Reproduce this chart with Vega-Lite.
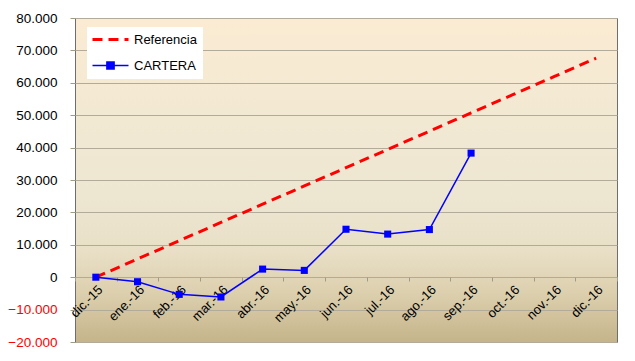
{
  "$schema": "https://vega.github.io/schema/vega-lite/v6.json",
  "width": 542,
  "height": 324,
  "autosize": {"type": "none"},
  "padding": {"left": 75, "top": 18, "right": 18, "bottom": 19},
  "background": "#FFFFFF",
  "config": {
    "font": "Liberation Sans",
    "view": {
      "stroke": "#6E6E6E",
      "strokeWidth": 1,
      "fill": {"gradient": "linear", "x1": 0, "y1": 0, "x2": 0, "y2": 1,
        "stops": [
          {"offset": 0, "color": "#FBEBD3"},
          {"offset": 0.3, "color": "#F2E9D3"},
          {"offset": 0.55, "color": "#EDE6D1"},
          {"offset": 0.72, "color": "#E8DFC6"},
          {"offset": 0.85, "color": "#DCCFAD"},
          {"offset": 1, "color": "#C5B48A"}
        ]}
    }
  },
  "data": {
    "values": [
      {"mes": "dic.-15", "serie": "Referencia", "valor": 0},
      {"mes": "ene.-16", "serie": "Referencia", "valor": 5633},
      {"mes": "feb.-16", "serie": "Referencia", "valor": 11267},
      {"mes": "mar.-16", "serie": "Referencia", "valor": 16900},
      {"mes": "abr.-16", "serie": "Referencia", "valor": 22533},
      {"mes": "may.-16", "serie": "Referencia", "valor": 28167},
      {"mes": "jun.-16", "serie": "Referencia", "valor": 33800},
      {"mes": "jul.-16", "serie": "Referencia", "valor": 39433},
      {"mes": "ago.-16", "serie": "Referencia", "valor": 45067},
      {"mes": "sep.-16", "serie": "Referencia", "valor": 50700},
      {"mes": "oct.-16", "serie": "Referencia", "valor": 56333},
      {"mes": "nov.-16", "serie": "Referencia", "valor": 61967},
      {"mes": "dic.-16", "serie": "Referencia", "valor": 67600},
      {"mes": "dic.-15", "serie": "CARTERA", "valor": 0},
      {"mes": "ene.-16", "serie": "CARTERA", "valor": -1400},
      {"mes": "feb.-16", "serie": "CARTERA", "valor": -5300},
      {"mes": "mar.-16", "serie": "CARTERA", "valor": -6100},
      {"mes": "abr.-16", "serie": "CARTERA", "valor": 2500},
      {"mes": "may.-16", "serie": "CARTERA", "valor": 2100},
      {"mes": "jun.-16", "serie": "CARTERA", "valor": 14800},
      {"mes": "jul.-16", "serie": "CARTERA", "valor": 13300},
      {"mes": "ago.-16", "serie": "CARTERA", "valor": 14700},
      {"mes": "sep.-16", "serie": "CARTERA", "valor": 38300}
    ]
  },
  "encoding": {
    "x": {
      "field": "mes", "type": "nominal",
      "sort": ["dic.-15","ene.-16","feb.-16","mar.-16","abr.-16","may.-16","jun.-16","jul.-16","ago.-16","sep.-16","oct.-16","nov.-16","dic.-16"],
      "scale": {"domain": ["dic.-15","ene.-16","feb.-16","mar.-16","abr.-16","may.-16","jun.-16","jul.-16","ago.-16","sep.-16","oct.-16","nov.-16","dic.-16"], "paddingInner": 0, "paddingOuter": 0},
      "axis": {
        "title": null, "offset": -65, "domain": false,
        "labelAngle": -45, "labelAlign": "right", "labelBaseline": "top",
        "labelFontSize": 13, "labelColor": "#000000", "labelPadding": 2,
        "tickBand": "extent", "tickSize": 4, "tickColor": "#A09A88",
        "grid": false
      }
    },
    "y": {
      "field": "valor", "type": "quantitative",
      "scale": {"domain": [-20000, 80000], "nice": false, "zero": false},
      "axis": {
        "title": null,
        "values": [-20000,-10000,0,10000,20000,30000,40000,50000,60000,70000,80000],
        "labelExpr": "replace(format(datum.value, ','), ',', '.')",
        "labelColor": {"condition": {"test": "datum.value < 0", "value": "#FF0000"}, "value": "#000000"},
        "labelFontSize": 13.5, "labelPadding": 13, "tickSize": 5, "tickColor": "#A09A88",
        "domain": false, "grid": true, "gridColor": "#B2AB99", "gridWidth": 1
      }
    },
    "color": {
      "field": "serie", "type": "nominal",
      "scale": {"domain": ["Referencia", "CARTERA"], "range": ["#FF0000", "#0000FF"]},
      "legend": {
        "title": null, "orient": "none", "legendX": 12, "legendY": 9,
        "fillColor": "#FFFFFF", "padding": 6, "rowPadding": 11,
        "labelFontSize": 13, "labelColor": "#000000", "labelOffset": 17,
        "symbolOffset": 11,
        "symbolSize": 400, "symbolStrokeWidth": 2,
        "encode": {
          "symbols": {
            "update": {
              "shape": {"signal": "datum.value === 'CARTERA' ? 'M-1.8,0H1.8M-0.36,-0.36H0.36V0.36H-0.36Z' : 'M-1.8,0H1.8'"},
              "fill": {"signal": "datum.value === 'CARTERA' ? '#0000FF' : 'transparent'"},
              "strokeDash": {"signal": "datum.value === 'Referencia' ? [10, 6] : [1, 0]"},
              "strokeWidth": {"signal": "datum.value === 'Referencia' ? 3 : 1.5"}
            }
          }
        }
      }
    }
  },
  "layer": [
    {
      "transform": [{"filter": "datum.serie === 'Referencia'"}],
      "mark": {"type": "line", "strokeWidth": 3, "strokeDash": [10, 6]}
    },
    {
      "transform": [{"filter": "datum.serie === 'CARTERA'"}],
      "mark": {"type": "line", "strokeWidth": 1.5}
    },
    {
      "transform": [{"filter": "datum.serie === 'CARTERA'"}],
      "mark": {"type": "point", "shape": "square", "filled": true, "size": 50, "opacity": 1}
    }
  ]
}
